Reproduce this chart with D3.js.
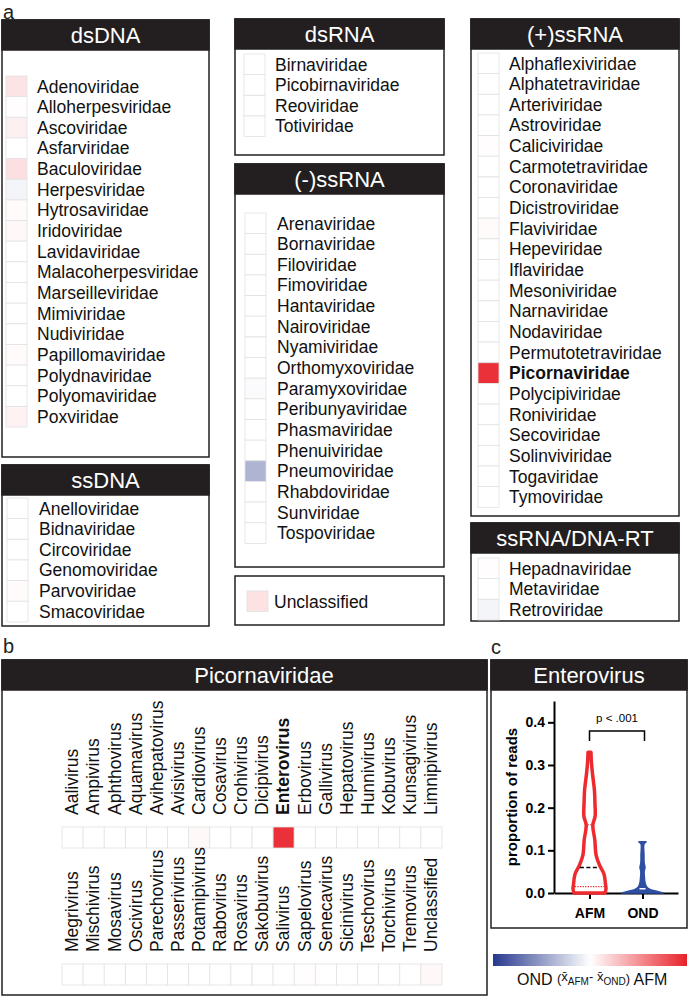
<!DOCTYPE html>
<html>
<head>
<meta charset="utf-8">
<script src="https://cdn.jsdelivr.net/npm/d3@7"></script>
<style>
  body { margin: 0; background: #fff; }
  text { font-family: "Liberation Sans", Arial, Helvetica, sans-serif; }
</style>
</head>
<body>
<svg id="fig" width="688" height="997"></svg>
<script>
// ---- data: family names and colour values (mean AFM - mean OND, scaled -1..1)
const dsDNA = ["Adenoviridae", "Alloherpesviridae", "Ascoviridae", "Asfarviridae", "Baculoviridae",
  "Herpesviridae", "Hytrosaviridae", "Iridoviridae", "Lavidaviridae", "Malacoherpesviridae",
  "Marseilleviridae", "Mimiviridae", "Nudiviridae", "Papillomaviridae", "Polydnaviridae",
  "Polyomaviridae", "Poxviridae"];
const dsDNAValues = [0.12, 0.01, 0.07, 0, 0.14, -0.05, 0.02, 0.03, 0, 0, 0, 0, 0, 0.02, 0, 0, 0.06];

const ssDNA = ["Anelloviridae", "Bidnaviridae", "Circoviridae", "Genomoviridae", "Parvoviridae", "Smacoviridae"];
const ssDNAValues = [0, 0, 0, 0, 0.02, 0];

const dsRNA = ["Birnaviridae", "Picobirnaviridae", "Reoviridae", "Totiviridae"];
const dsRNAValues = [0, 0, 0, 0];

const negRNA = ["Arenaviridae", "Bornaviridae", "Filoviridae", "Fimoviridae", "Hantaviridae",
  "Nairoviridae", "Nyamiviridae", "Orthomyxoviridae", "Paramyxoviridae", "Peribunyaviridae",
  "Phasmaviridae", "Phenuiviridae", "Pneumoviridae", "Rhabdoviridae", "Sunviridae", "Tospoviridae"];
const negRNAValues = [0, 0, 0, 0, 0, 0, 0, 0, -0.02, 0, 0, 0, -0.38, 0, 0, 0];

const posRNA = ["Alphaflexiviridae", "Alphatetraviridae", "Arteriviridae", "Astroviridae", "Caliciviridae",
  "Carmotetraviridae", "Coronaviridae", "Dicistroviridae", "Flaviviridae", "Hepeviridae", "Iflaviridae",
  "Mesoniviridae", "Narnaviridae", "Nodaviridae", "Permutotetraviridae", "Picornaviridae",
  "Polycipiviridae", "Roniviridae", "Secoviridae", "Solinviviridae", "Togaviridae", "Tymoviridae"];
const posRNAValues = [0, 0, 0, 0, 0.01, 0, 0, 0, 0.02, 0, 0, 0, 0, 0, 0, 0.93, 0, 0, 0, 0, 0, 0];

const rtVirus = ["Hepadnaviridae", "Metaviridae", "Retroviridae"];
const rtValues = [0.01, 0, -0.05];

const unclassifiedValue = 0.13;

// ---- Picornaviridae genera
const generaTop = ["Aalivirus", "Ampivirus", "Aphthovirus", "Aquamavirus", "Avihepatovirus", "Avisivirus",
  "Cardiovirus", "Cosavirus", "Crohivirus", "Dicipivirus", "Enterovirus", "Erbovirus", "Gallivirus",
  "Hepatovirus", "Hunnivirus", "Kobuvirus", "Kunsagivirus", "Limnipivirus"];
const generaTopValues = [0, 0, 0, 0, 0, 0, 0.03, 0, 0, 0, 0.93, 0, 0, 0, 0, 0, 0, 0];
const generaBottom = ["Megrivirus", "Mischivirus", "Mosavirus", "Oscivirus", "Parechovirus", "Passerivirus",
  "Potamipivirus", "Rabovirus", "Rosavirus", "Sakobuvirus", "Salivirus", "Sapelovirus", "Senecavirus",
  "Sicinivirus", "Teschovirus", "Torchivirus", "Tremovirus", "Unclassified"];
const generaBottomValues = [0, 0, 0, 0, 0, 0, 0, 0, 0, 0, 0, 0.01, 0, 0, 0, 0, 0, 0.03];

// ---- Enterovirus violin (proportion of reads, relative density)
const groups = ["AFM", "OND"];
const afmLevels  = [0, 0.01, 0.02, 0.044, 0.065, 0.089, 0.125, 0.159, 0.18, 0.21, 0.24, 0.28, 0.31, 0.33];
const afmDensity = [0.94, 1.0, 0.97, 0.88, 0.61, 0.40, 0.32, 0.20, 0.34, 0.33, 0.30, 0.18, 0.11, 0.09];
const afmQuartiles = [0.015, 0.06, 0.16];
const ondLevels  = [0, 0.004, 0.008, 0.015, 0.025, 0.035, 0.05, 0.06, 0.07, 0.09, 0.115, 0.12];
const ondDensity = [1.25, 0.85, 0.48, 0.24, 0.15, 0.12, 0.10, 0.15, 0.10, 0.09, 0.09, 0.22];
const ondQuartiles = [0.002, 0.004, 0.01];
const yTicks = [0, 0.1, 0.2, 0.3, 0.4];
const pLabel = "p < .001";

// ---- drawing
const INK = "#231f20";
const BLUE = "#27398f", RED = "#e8222b";
const ROW = 20.65;
const color = d3.scaleLinear().domain([-1, 0, 1]).range([BLUE, "#ffffff", RED]);

const svg = d3.select("#fig");

function panelLabel(t, x, y) {
  svg.append("text").attr("x", x).attr("y", y).attr("font-size", 20).attr("fill", INK).text(t);
}

function box(x, y, w, h, title, titleX) {
  svg.append("rect").attr("x", x).attr("y", y).attr("width", w).attr("height", h)
    .attr("fill", "#fff").attr("stroke", INK).attr("stroke-width", 1.5);
  if (!title) return;
  svg.append("rect").attr("x", x).attr("y", y).attr("width", w).attr("height", 30)
    .attr("fill", INK).attr("stroke", INK).attr("stroke-width", 1.5);
  svg.append("text").attr("x", titleX != null ? titleX : x + w / 2).attr("y", y + 23)
    .attr("text-anchor", "middle").attr("font-size", 22).attr("fill", "#fff").text(title);
}

function familyList(g) {
  if (g.title) box(g.x, g.y, g.w, g.h, g.title);
  const yb = d3.scaleBand().domain(g.names).range([g.rowTop, g.rowTop + g.names.length * ROW]);
  svg.append("g").selectAll("rect").data(g.names).join("rect")
    .attr("x", g.sx).attr("y", d => yb(d)).attr("width", 21).attr("height", yb.bandwidth())
    .attr("fill", (d, i) => color(g.values[i]))
    .attr("stroke", "#e2e2e2").attr("stroke-width", 0.8);
  svg.append("g").selectAll("text").data(g.names).join("text")
    .attr("x", g.tx).attr("y", d => yb(d) + yb.bandwidth() / 2 + 6.2)
    .attr("font-size", 17.5).attr("fill", "#111")
    .attr("font-weight", d => d === g.bold ? "bold" : null)
    .text(d => d);
}

// panel a
panelLabel("a", 3, 19);
familyList({ title: "dsDNA", names: dsDNA, values: dsDNAValues, x: 2, y: 20, w: 207, h: 437, rowTop: 76, sx: 6, tx: 37 });
familyList({ title: "ssDNA", names: ssDNA, values: ssDNAValues, x: 2, y: 465, w: 207, h: 161, rowTop: 498, sx: 7, tx: 39 });
familyList({ title: "dsRNA", names: dsRNA, values: dsRNAValues, x: 235, y: 19, w: 209, h: 136, rowTop: 54, sx: 244, tx: 275 });
familyList({ title: "(-)ssRNA", names: negRNA, values: negRNAValues, x: 235, y: 164, w: 209, h: 403, rowTop: 213, sx: 245, tx: 277 });
familyList({ title: "(+)ssRNA", names: posRNA, values: posRNAValues, x: 471, y: 19, w: 208, h: 497, rowTop: 53, sx: 478, tx: 509, bold: "Picornaviridae" });
familyList({ title: "ssRNA/DNA-RT", names: rtVirus, values: rtValues, x: 471, y: 523, w: 208, h: 98, rowTop: 558, sx: 478, tx: 509 });

// unclassified box
box(235, 576, 209, 49);
familyList({ title: null, names: ["Unclassified"], values: [unclassifiedValue], rowTop: 591, sx: 247, tx: 274 });

// panel b
panelLabel("b", 3, 653);
box(2, 660, 485, 335, "Picornaviridae", 264);
const xg = d3.scaleBand().domain(d3.range(generaTop.length)).range([62, 442]);

function generaRow(names, values, cellTop, labelBottom) {
  svg.append("g").selectAll("rect").data(names).join("rect")
    .attr("x", (d, i) => xg(i)).attr("y", cellTop).attr("width", xg.bandwidth()).attr("height", 21)
    .attr("fill", (d, i) => color(values[i])).attr("stroke", "#e2e2e2").attr("stroke-width", 0.8);
  svg.append("g").selectAll("text").data(names).join("text")
    .attr("transform", (d, i) => `translate(${xg(i) + xg.bandwidth() / 2 + 5.8},${labelBottom}) rotate(-90)`)
    .attr("font-size", 17.5).attr("fill", "#111")
    .attr("font-weight", d => d === "Enterovirus" ? "bold" : null)
    .text(d => d);
}
generaRow(generaTop, generaTopValues, 827, 815);
generaRow(generaBottom, generaBottomValues, 964, 952);

// panel c
panelLabel("c", 491, 654);
box(491, 660, 196, 268, "Enterovirus");

const y = d3.scaleLinear().domain([0, 0.45]).range([893, 701]);
const x = d3.scalePoint().domain(groups).range([554, 678]).padding(0.67);
const w = d3.scaleLinear().domain([0, 1]).range([0, 16.5]);

const yAxis = svg.append("g").attr("transform", "translate(554,0)")
  .call(d3.axisLeft(y).tickValues(yTicks).tickFormat(d3.format(".1f")).tickSize(6).tickSizeOuter(0).tickPadding(3));
const xAxis = svg.append("g").attr("transform", `translate(0,${y(0)})`)
  .call(d3.axisBottom(x).tickSize(6).tickSizeOuter(0).tickPadding(4));
[yAxis, xAxis].forEach(a => {
  a.selectAll("path, line").attr("stroke", "#000").attr("stroke-width", 2);
  a.selectAll("text").attr("font-size", 14).attr("font-weight", "bold").attr("fill", "#000")
    .attr("font-family", "'Liberation Sans', Arial, sans-serif");
});
xAxis.selectAll("text").attr("dy", "1.05em");

svg.append("text").attr("transform", `translate(517,797) rotate(-90)`)
  .attr("text-anchor", "middle").attr("font-size", 15).attr("font-weight", "bold").attr("fill", "#000")
  .text("proportion of reads");

function violin(levels, density, cx, fill, stroke, sw) {
  const pts = levels.map((v, i) => [v, density[i]]);
  const area = d3.area()
    .y(d => y(d[0]))
    .x0(d => cx - w(d[1]))
    .x1(d => cx + w(d[1]))
    .curve(d3.curveCatmullRom.alpha(0.5));
  svg.append("path").datum(pts).attr("d", area)
    .attr("fill", fill).attr("stroke", stroke).attr("stroke-width", sw).attr("stroke-linejoin", "round");
}

const afmW = d3.scaleLinear().domain(afmLevels).range(afmDensity);
violin(afmLevels, afmDensity, x("AFM"), "#fff", "#ee2a2e", 3.5);
afmQuartiles.forEach((q, i) => {
  const hw = w(afmW(q)) - 1.5;
  svg.append("line").attr("x1", x("AFM") - hw).attr("x2", x("AFM") + hw).attr("y1", y(q)).attr("y2", y(q))
    .attr("stroke", i === 1 ? "#000" : "#ee2a2e").attr("stroke-width", i === 1 ? 1.5 : 1.2)
    .attr("stroke-dasharray", i === 1 ? "4,2.5" : "1.3,1.3");
});

violin(ondLevels, ondDensity, x("OND"), "#2e4fa2", "#2e4fa2", 1.5);
svg.append("line").attr("x1", x("OND") - 3).attr("x2", x("OND") + 3)
  .attr("y1", y(ondQuartiles[2])).attr("y2", y(ondQuartiles[2]))
  .attr("stroke", "#fff").attr("stroke-width", 1.5);

// significance bracket
const by = 731;
svg.append("path")
  .attr("d", `M${x("AFM")},${by + 10}V${by}H${x("OND") + 2}V${by + 10}`)
  .attr("fill", "none").attr("stroke", "#000").attr("stroke-width", 1.5);
svg.append("text").attr("x", (x("AFM") + x("OND")) / 2 + 1).attr("y", 722)
  .attr("text-anchor", "middle").attr("font-size", 11.5).attr("fill", "#000").text(pLabel);

// colour bar
const defs = svg.append("defs");
const grad = defs.append("linearGradient").attr("id", "cbar");
[-1, -0.5, 0, 0.5, 1].forEach(v => {
  grad.append("stop").attr("offset", `${(v + 1) * 50}%`).attr("stop-color", color(v));
});
svg.append("rect").attr("x", 493).attr("y", 954).attr("width", 194).attr("height", 12)
  .attr("fill", "url(#cbar)");

const cl = svg.append("text").attr("x", 517).attr("y", 985).attr("fill", "#111");
cl.append("tspan").attr("font-size", 16).text("OND ");
cl.append("tspan").attr("y", 983).attr("font-size", 13).text("(");
cl.append("tspan").attr("y", 981).attr("font-size", 13).text("x\u0304");
cl.append("tspan").attr("y", 985).attr("font-size", 10).text("AFM");
cl.append("tspan").attr("y", 981).attr("font-size", 13).text("- x\u0304");
cl.append("tspan").attr("y", 985).attr("font-size", 10).text("OND");
cl.append("tspan").attr("y", 983).attr("font-size", 13).text(")");
cl.append("tspan").attr("y", 985).attr("font-size", 16).text(" AFM");
</script>
</body>
</html>
